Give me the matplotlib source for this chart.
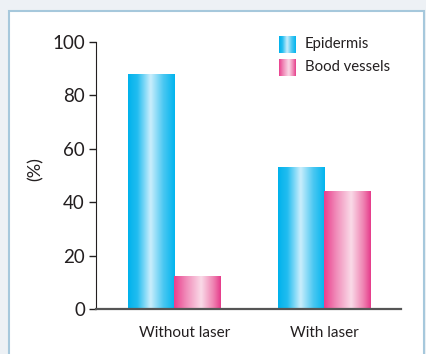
import numpy as np
import matplotlib.pyplot as plt
from matplotlib.colors import LinearSegmentedColormap
from matplotlib.patches import Rectangle
from matplotlib.transforms import ScaledTranslation

plt.rcParams['font.family'] = ['Lato', 'DejaVu Sans']

groups = ['Without laser', 'With laser']
series = ['Epidermis', 'Bood vessels']
epidermis = [88, 53]
vessels = [12, 44]

# bar shading: saturated at the edges, pale band near the middle
blue = LinearSegmentedColormap.from_list(
    'blue', [(0, '#00b2ec'), (0.2, '#22bdf0'), (0.48, '#cbeefc'), (0.75, '#4cc8f2'), (1, '#00b4ee')])
pink = LinearSegmentedColormap.from_list(
    'pink', [(0, '#ea3d8c'), (0.25, '#f08ab8'), (0.58, '#fadbe8'), (0.85, '#ee7fb0'), (1, '#e63a8a')])
grad = np.linspace(0, 1, 256).reshape(1, -1)

fig = plt.figure(figsize=(4.27, 3.54), dpi=100)
fig.patch.set_facecolor('#edf1f5')
fig.patches.append(Rectangle((9 / 427, -0.1), (424 - 9) / 427, 1.1 - 11 / 354,
                             transform=fig.transFigure, facecolor='white',
                             edgecolor='#a6c8dc', linewidth=1.5, zorder=-1))

ax = fig.add_axes([96 / 427, 45 / 354, 305 / 427, 267 / 354])
ax.set_facecolor('none')

x = np.arange(len(groups))
w = 0.307


def gradient_bar(x0, x1, y0, y1, cmap, clip=True):
    ax.imshow(grad, cmap=cmap, extent=[x0, x1, y0, y1], aspect='auto',
              interpolation='bicubic', zorder=2, clip_on=clip)


for i in range(len(groups)):
    gradient_bar(x[i] - w, x[i], 0, epidermis[i], blue)
    gradient_bar(x[i], x[i] + w, 0, vessels[i], pink)

# legend with shaded swatches
leg_y = [(95.9, 101.9), (87.3, 93.3)]
for (y0, y1), cmap, name in zip(leg_y, [blue, pink], series):
    gradient_bar(0.70, 0.807, y0, y1, cmap, clip=False)
    ax.text(0.873, (y0 + y1) / 2 + 0.2, name, fontsize=10.7, color='#231f20',
            va='center', ha='left')

ax.set_xlim(-0.52, 1.513)
ax.set_ylim(0, 100)
ax.set_xticks(x)
ax.set_xticklabels(groups, fontsize=11, color='#231f20')
ax.tick_params(axis='x', length=0, pad=12)
# first group label sits a little right of its tick
lbl = ax.get_xticklabels()[0]
lbl.set_transform(lbl.get_transform() + ScaledTranslation(0.11, 0, fig.dpi_scale_trans))
ax.set_yticks(range(0, 101, 20))
ax.tick_params(axis='y', labelsize=13.5, colors='#231f20', length=5, width=1, pad=3)
ax.set_ylabel('(%)', fontsize=13, color='#231f20')
ax.yaxis.set_label_coords(-0.173, 0.524)

ax.spines['top'].set_visible(False)
ax.spines['right'].set_visible(False)
ax.spines['left'].set_color('#231f20')
ax.spines['bottom'].set_color('#555555')
ax.spines['bottom'].set_linewidth(1.6)
ax.spines['bottom'].set_zorder(3)

fig.savefig('out.png', dpi=100, facecolor=fig.get_facecolor())
